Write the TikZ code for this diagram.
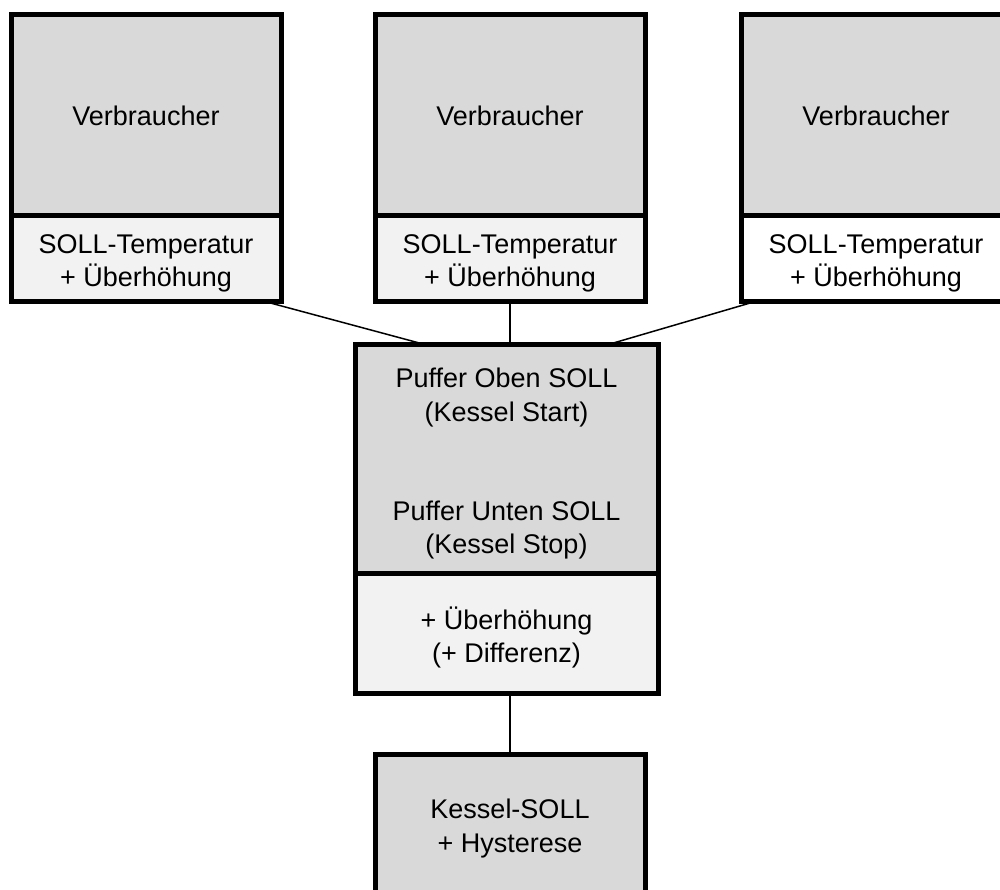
\documentclass[tikz,border=0pt]{standalone}
\usepackage{fontspec}
\setmainfont{Liberation Sans}
\usepackage{xcolor}
\usetikzlibrary{positioning, calc}

\definecolor{boxgray}{HTML}{D9D9D9}
\definecolor{boxlight}{HTML}{F2F2F2}

% Text etwas tiefer setzen, ohne die Knotengroesse zu aendern
\newcommand{\lowtext}[2]{\raisebox{-#1}[\height][\depth]{\begin{tabular}{@{}c@{}}#2\end{tabular}}}

\tikzset{
  part/.style={draw, line width=5pt, rectangle, inner sep=0pt, outer sep=0pt,
    align=center, font=\fontsize{27}{33}\selectfont},
  head/.style={part, fill=boxgray, minimum width=270pt, minimum height=201pt},
  foot/.style={part, fill=boxlight, minimum width=270pt, minimum height=85pt},
  link/.style={line width=1.5pt}
}

\begin{document}
\begin{tikzpicture}[x=1pt, y=-1pt]
    \useasboundingbox (0,0) rectangle (1000,890);

    % Verbraucher oben
    \node[head] (v1) at (146,115.5) {Verbraucher};
    \node[foot, below=0pt of v1] (s1) {\lowtext{5pt}{SOLL-Temperatur\\+ Überhöhung}};

    \node[head] (v2) at (510,115.5) {Verbraucher};
    \node[foot, below=0pt of v2] (s2) {\lowtext{5pt}{SOLL-Temperatur\\+ Überhöhung}};

    \node[head] (v3) at (876,115.5) {Verbraucher};
    \node[foot, fill=white, below=0pt of v3] (s3) {\lowtext{5pt}{SOLL-Temperatur\\+ Überhöhung}};

    % Puffer
    \node[part, fill=boxgray, minimum width=303pt, minimum height=229pt] (puf) at (506.5,458.5)
      {\lowtext{5pt}{Puffer Oben SOLL\\[1pt](Kessel Start)\\[66pt]Puffer Unten SOLL\\(Kessel Stop)}};
    \node[part, fill=boxlight, minimum width=303pt, minimum height=120pt, below=0pt of puf] (dif)
      {\lowtext{6pt}{+ Überhöhung\\(+ Differenz)}};

    % Kessel
    \node[part, fill=boxgray, minimum width=270pt, minimum height=144pt] (kes) at (510,826)
      {\lowtext{3pt}{Kessel-SOLL\\[1pt]+ Hysterese}};

    \draw[link] ([xshift=117pt]s1.south) -- ([xshift=-83.5pt]puf.north);
    \draw[link] (s2.south) -- (s2.south |- puf.north);
    \draw[link] ([xshift=-119pt]s3.south) -- ([xshift=103.5pt]puf.north);
    \draw[link] (dif.south -| kes.north) -- (kes.north);
\end{tikzpicture}
\end{document}
